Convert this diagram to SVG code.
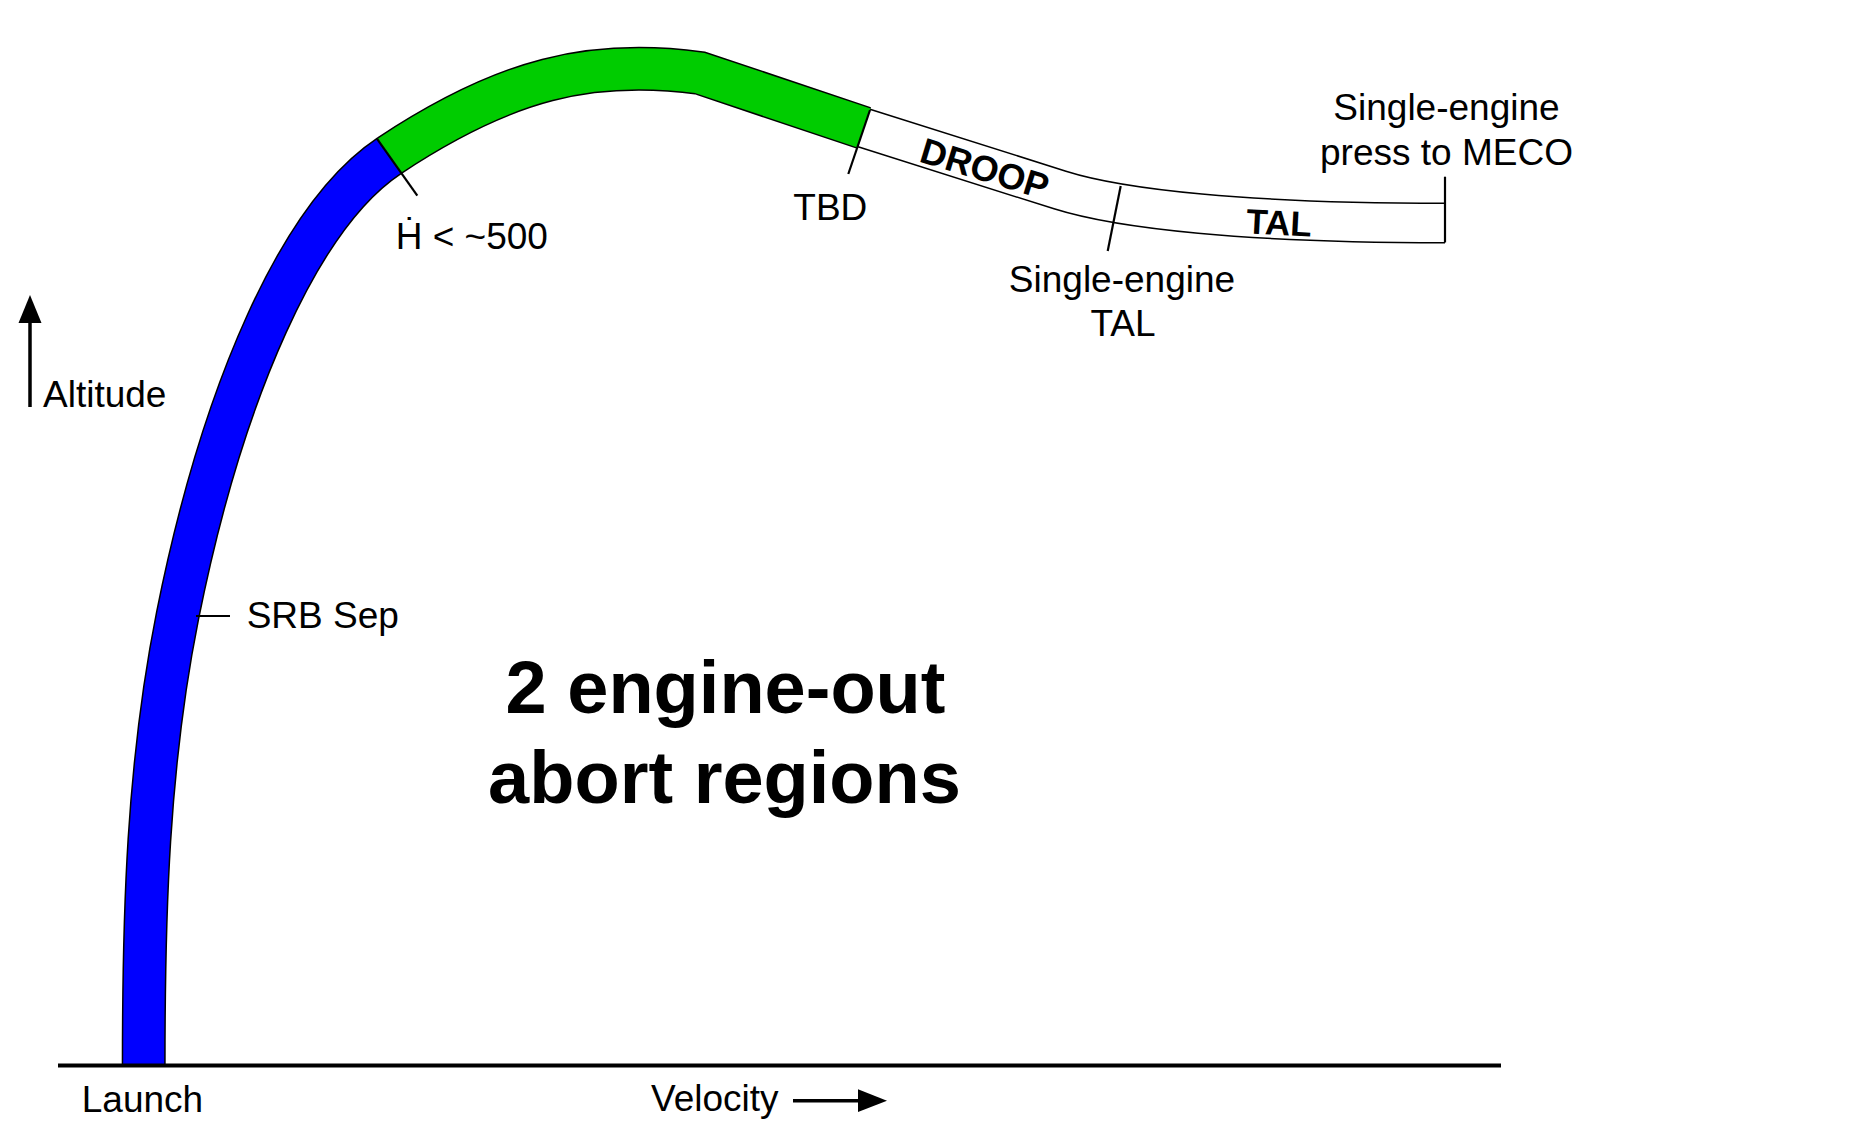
<svg xmlns="http://www.w3.org/2000/svg" width="1853" height="1122" viewBox="0 0 1853 1122">
<style>
.t{font-family:"Liberation Sans",Arial,sans-serif;font-size:37px;fill:#000}
.b{font-family:"Liberation Sans",Arial,sans-serif;font-weight:bold;fill:#000}
.edge{fill:none;stroke:#000;stroke-linejoin:miter;stroke-linecap:butt}
.band{fill:none;stroke-linejoin:miter;stroke-linecap:butt}
.tick{stroke:#000;stroke-width:2.2;fill:none}
</style>
<rect width="1853" height="1122" fill="#fff"/>
<g id="trajectory">
  <path class="edge" stroke-width="44" d="M143.7,1065 C143.7,915 147.5,766 177.5,616 C222.6,390.6 300,215 389.2,155.8"/>
  <path class="edge" stroke-width="44" d="M389.2,155.8 C505.8,78.4 591,58.7 700,73 L864,128"/>
  <path class="edge" stroke-width="41" d="M864,128 L1060,190 C1120,209 1245,223 1445,223"/>
  <path id="blue-region" class="band" stroke="#0000ff" stroke-width="41" d="M143.7,1065 C143.7,915 147.5,766 177.5,616 C222.6,390.6 300,215 389.2,155.8"/>
  <path id="green-region" class="band" stroke="#00cc00" stroke-width="41" d="M389.2,155.8 C505.8,78.4 591,58.7 700,73 L864,128"/>
  <path id="white-region" class="band" stroke="#ffffff" stroke-width="38" d="M864,128 L1060,190 C1120,209 1245,223 1445,223"/>
</g>
<g id="connectors">
  <line class="tick" x1="376.7" y1="138.3" x2="417.3" y2="195.7"/>
  <line class="tick" x1="870" y1="110" x2="848.3" y2="174"/>
  <line class="tick" x1="196" y1="616" x2="230" y2="616"/>
  <line class="tick" x1="1120.7" y1="186" x2="1107.7" y2="251"/>
  <line class="tick" x1="1445" y1="176.7" x2="1445" y2="242.5"/>
  <line x1="58" y1="1065.5" x2="1501" y2="1065.5" stroke="#000" stroke-width="4"/>
  <line x1="30" y1="407" x2="30" y2="320" stroke="#000" stroke-width="3.5"/>
  <polygon points="30,295 41.5,323 18.5,323" fill="#000"/>
  <line x1="793" y1="1100.7" x2="860" y2="1100.7" stroke="#000" stroke-width="3.4"/>
  <polygon points="887,1100.7 858,1089.3 858,1112" fill="#000"/>
</g>
<g id="labels">
  <text class="t" x="43" y="406.7">Altitude</text>
  <text class="t" x="246.7" y="628.3">SRB Sep</text>
  <text class="t" x="395.7" y="249.3">Ḣ &lt; ~500</text>
  <text class="t" x="793.3" y="220">TBD</text>
  <text class="b" font-size="36" text-anchor="middle" transform="translate(985,168) rotate(17)" x="0" y="13">DROOP</text>
  <text class="b" font-size="35" text-anchor="middle" transform="translate(1279,222) rotate(3)" x="0" y="13">TAL</text>
  <text class="t" text-anchor="middle" x="1446.5" y="120">Single-engine</text>
  <text class="t" text-anchor="middle" x="1446.5" y="165">press to MECO</text>
  <text class="t" text-anchor="middle" x="1122" y="291.7">Single-engine</text>
  <text class="t" text-anchor="middle" x="1123" y="336">TAL</text>
  <text class="b" font-size="74" text-anchor="middle" x="725.5" y="712.7">2 engine-out</text>
  <text class="b" font-size="74" text-anchor="middle" x="724.5" y="802.7">abort regions</text>
  <text class="t" x="81.8" y="1111.7">Launch</text>
  <text class="t" x="651" y="1110.7">Velocity</text>
</g>
</svg>
